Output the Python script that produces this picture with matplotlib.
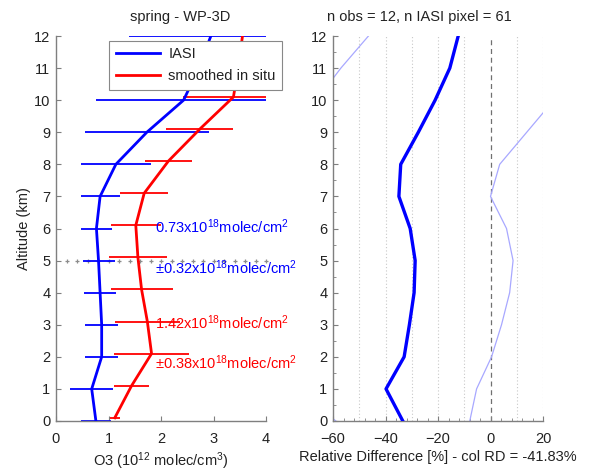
import numpy as np
import matplotlib
matplotlib.use("Agg")
import matplotlib.pyplot as plt
from matplotlib.ticker import MultipleLocator

plt.rcParams['font.family'] = ['Liberation Sans', 'DejaVu Sans']
plt.rcParams['mathtext.fontset'] = 'custom'
plt.rcParams['mathtext.rm'] = 'Liberation Sans'
plt.rcParams['mathtext.it'] = 'Liberation Sans:italic'

# ---- data ----
altitude = [0, 1, 2, 3, 4, 5, 6, 7, 8, 9, 10, 11, 12]
altitude_insitu = [0.1, 1.1, 2.1, 3.1, 4.1, 5.1, 6.1, 7.1, 8.1, 9.1, 10.1, 11.1, 12.1]

iasi_o3 = [0.76, 0.68, 0.87, 0.87, 0.84, 0.81, 0.77, 0.84, 1.14, 1.73, 2.43, 2.72, 2.95]
iasi_err = [0.28, 0.41, 0.32, 0.31, 0.30, 0.305, 0.30, 0.37, 0.66, 1.18, 1.67, 1.70, 1.56]

insitu_o3 = [1.12, 1.44, 1.82, 1.74, 1.63, 1.56, 1.52, 1.68, 2.14, 2.74, 3.38, 3.48, 3.56]
insitu_err = [0.10, 0.34, 0.71, 0.62, 0.59, 0.545, 0.48, 0.46, 0.45, 0.64, 0.97, 0.90, 0.90]

rd_mean = [-33.4, -39.8, -32.9, -30.9, -29.1, -28.7, -30.6, -34.9, -34.2, -27.5, -21.1, -15.5, -12.3]
rd_upper = [-7.9, -5.3, 0.4, 4.2, 7.3, 8.6, 6.1, 0.0, 3.5, 13.8, 24.1, 26.0, 21.9]
rd_lower = [-58.9, -74.3, -66.2, -66.0, -65.5, -66.0, -67.3, -69.8, -71.9, -68.8, -66.3, -57.0, -46.5]

ref_altitude = 5
ref_x = np.arange(0.2, 4.01, 0.2)
annotations = [
    ("0.73x10$^{18}$molec/cm$^2$", 6.05, 'blue'),
    ("\u00b10.32x10$^{18}$molec/cm$^2$", 4.78, 'blue'),
    ("1.42x10$^{18}$molec/cm$^2$", 3.05, 'red'),
    ("\u00b10.38x10$^{18}$molec/cm$^2$", 1.82, 'red'),
]

left_title = "spring - WP-3D"
right_title = "n obs = 12, n IASI pixel = 61"
left_xlabel = "O3 (10$^{12}$ molec/cm$^3$)"
right_xlabel = "Relative Difference [%] - col RD = -41.83%"

FS = 10.5
SPINE = '#7f7f7f'
TXT = '#222222'

fig = plt.figure(figsize=(5.95, 4.75), dpi=100)
ax1 = fig.add_axes([56/595, 54/475, 210/595, 385/475])
ax2 = fig.add_axes([333/595, 54/475, 210/595, 385/475])

for ax in (ax1, ax2):
    ax.spines['top'].set_visible(False)
    ax.spines['right'].set_visible(False)
    for s in ('left', 'bottom'):
        ax.spines[s].set_color(SPINE)
        ax.spines[s].set_linewidth(1.0)
    ax.tick_params(which='both', direction='in', color=SPINE, labelcolor=TXT,
                   labelsize=FS)
    ax.tick_params(axis='y', which='both', pad=4)
    ax.tick_params(axis='x', which='both', pad=8)
    ax.tick_params(which='major', length=3.5)
    ax.tick_params(which='minor', length=2)
    ax.set_ylim(0, 12)
    ax.yaxis.set_major_locator(MultipleLocator(1))

# ---- left panel ----
ax1.set_xlim(0, 4)
ax1.xaxis.set_major_locator(MultipleLocator(1))
ax1.plot(ref_x, np.full(len(ref_x), ref_altitude), ls='none', marker='+',
         ms=3, mew=0.9, color='#8c8c8c', zorder=1, clip_on=False)
ax1.errorbar(iasi_o3, altitude, xerr=iasi_err, fmt='none', ecolor='blue',
             elinewidth=1.3, capsize=0, zorder=2)
ax1.errorbar(insitu_o3, altitude_insitu, xerr=insitu_err, fmt='none',
             ecolor='red', elinewidth=1.3, capsize=0, zorder=2)
l1, = ax1.plot(iasi_o3, altitude, color='blue', lw=2.0, label='IASI', zorder=3)
l2, = ax1.plot(insitu_o3, altitude_insitu, color='red', lw=2.0,
               label='smoothed in situ', zorder=3)
for txt, y, c in annotations:
    ax1.text(1.88, y, txt, color=c, fontsize=FS, va='center', ha='left',
             clip_on=False, zorder=5)
leg = ax1.legend(handles=[l1, l2], loc='upper left',
                 bbox_to_anchor=(0.254, 0.988), fontsize=FS, frameon=True,
                 fancybox=False, edgecolor='#888888', framealpha=1,
                 handlelength=3.0, borderpad=0.45, labelspacing=0.55,
                 handletextpad=0.6, borderaxespad=0)
leg.get_frame().set_linewidth(0.8)
for t in leg.get_texts():
    t.set_color(TXT)
ax1.set_ylabel("Altitude (km)", fontsize=FS, color=TXT, labelpad=2)
ax1.set_xlabel(left_xlabel, fontsize=FS, color=TXT, labelpad=3)
ax1.text(0.59, 1.05, left_title, transform=ax1.transAxes, ha='center',
         va='center', fontsize=FS, color=TXT)

# ---- right panel ----
ax2.set_xlim(-60, 20)
ax2.xaxis.set_major_locator(MultipleLocator(20))
ax2.xaxis.set_minor_locator(MultipleLocator(4))
ax2.yaxis.set_minor_locator(MultipleLocator(0.5))
for xv in np.arange(-50, 21, 10):
    if xv == 0:
        continue
    ax2.axvline(xv, color='#c8c8c8', lw=0.8, ls=(0, (1, 2)), zorder=0)
ax2.axvline(0, color='#707070', lw=0.9, ls=(0, (4, 3)), zorder=1)
ax2.plot(rd_upper, altitude, color='#a8a8ff', lw=0.9, zorder=2)
ax2.plot(rd_lower, altitude, color='#a8a8ff', lw=0.9, zorder=2)
ax2.plot(rd_mean, altitude, color='blue', lw=2.4, zorder=3)
ax2.set_xlabel(right_xlabel, fontsize=FS, color=TXT, labelpad=3)
ax2.text(0.41, 1.05, right_title, transform=ax2.transAxes, ha='center',
         va='center', fontsize=FS, color=TXT)

fig.savefig("out.png", dpi=100)
